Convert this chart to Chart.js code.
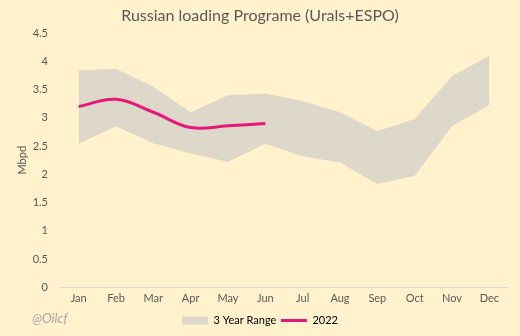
<!DOCTYPE html>
<html lang="en">
<head>
    <meta charset="UTF-8">
    <title>Russian loading Programe</title>
    <script src="https://cdn.jsdelivr.net/npm/chart.js"></script>
    <style>
        body { margin: 0; background: #FFF2CC; }
        #box { width: 520px; height: 336px; }
    </style>
</head>
<body>
    <div id="box"><canvas id="loadChart" width="520" height="336"></canvas></div>

    <script>
        // data (Mbpd)
        const months = ["Jan", "Feb", "Mar", "Apr", "May", "Jun", "Jul", "Aug", "Sep", "Oct", "Nov", "Dec"];
        const rangeLow = [2.54, 2.85, 2.55, 2.37, 2.22, 2.54, 2.32, 2.21, 1.83, 1.97, 2.85, 3.23];
        const rangeHigh = [3.84, 3.87, 3.55, 3.10, 3.40, 3.43, 3.30, 3.10, 2.77, 2.98, 3.74, 4.10];
        const y2022 = [3.20, 3.33, 3.10, 2.83, 2.86, 2.90, null, null, null, null, null, null];

        const bandColor = "#DED8CB";
        const pink = "#E6197A";
        const textColor = "#595959";
        const fontName = "Lato, 'Liberation Sans', sans-serif";

        // @Oilcf watermark bottom left
        const signature = {
            id: "signature",
            afterDraw(chart) {
                const ctx = chart.ctx;
                ctx.save();
                ctx.font = "italic 13px " + fontName;
                ctx.fillStyle = "#A6A6A6";
                ctx.textBaseline = "middle";
                ctx.fillText("@Oilcf", 32, 319);
                ctx.restore();
            }
        };

        let ctx = document.getElementById("loadChart").getContext("2d");
        new Chart(ctx, {
            type: "line",
            data: {
                labels: months,
                datasets: [
                    {
                        label: "low",
                        data: rangeLow,
                        borderWidth: 0,
                        pointRadius: 0,
                        tension: 0,
                        fill: false
                    },
                    {
                        label: "3 Year Range",
                        data: rangeHigh,
                        borderWidth: 0,
                        pointRadius: 0,
                        tension: 0,
                        backgroundColor: bandColor,
                        fill: "-1"
                    },
                    {
                        label: "2022",
                        data: y2022,
                        borderColor: pink,
                        borderWidth: 3,
                        pointRadius: 0,
                        tension: 0.4,
                        fill: false
                    }
                ]
            },
            options: {
                responsive: false,
                animation: false,
                layout: { padding: { left: 12, right: 12, top: 4, bottom: 0 } },
                plugins: {
                    filler: { drawTime: "beforeDatasetsDraw" },
                    tooltip: { enabled: false },
                    title: {
                        display: true,
                        text: "Russian loading Programe (Urals+ESPO)",
                        color: textColor,
                        font: { family: fontName, size: 16, weight: "normal" },
                        padding: { top: 2, bottom: 8 }
                    },
                    legend: {
                        position: "bottom",
                        labels: {
                            color: textColor,
                            font: { family: fontName, size: 11 },
                            usePointStyle: true,
                            pointStyleWidth: 26,
                            boxHeight: 8,
                            padding: 4.5,
                            generateLabels: () => [
                                { text: "3 Year Range", fillStyle: bandColor, strokeStyle: bandColor, lineWidth: 0, pointStyle: "rect", datasetIndex: 1 },
                                { text: "2022", fillStyle: pink, strokeStyle: pink, lineWidth: 3, pointStyle: "line", datasetIndex: 2 }
                            ]
                        }
                    }
                },
                scales: {
                    x: {
                        offset: true,
                        grid: { display: false, drawTicks: false },
                        border: { display: true, color: "#D9D9D9" },
                        ticks: { color: textColor, font: { family: fontName, size: 11 }, padding: 5 }
                    },
                    y: {
                        min: 0,
                        max: 4.5,
                        afterFit: scale => { scale.width = 48; },
                        ticks: {
                            stepSize: 0.5,
                            color: textColor,
                            font: { family: fontName, size: 11 },
                            padding: 12,
                            callback: v => String(v)
                        },
                        grid: { display: false, drawTicks: false },
                        border: { display: false },
                        title: { display: true, text: "Mbpd", color: textColor, font: { family: fontName, size: 11 } }
                    }
                }
            },
            plugins: [signature]
        });
    </script>
</body>
</html>
